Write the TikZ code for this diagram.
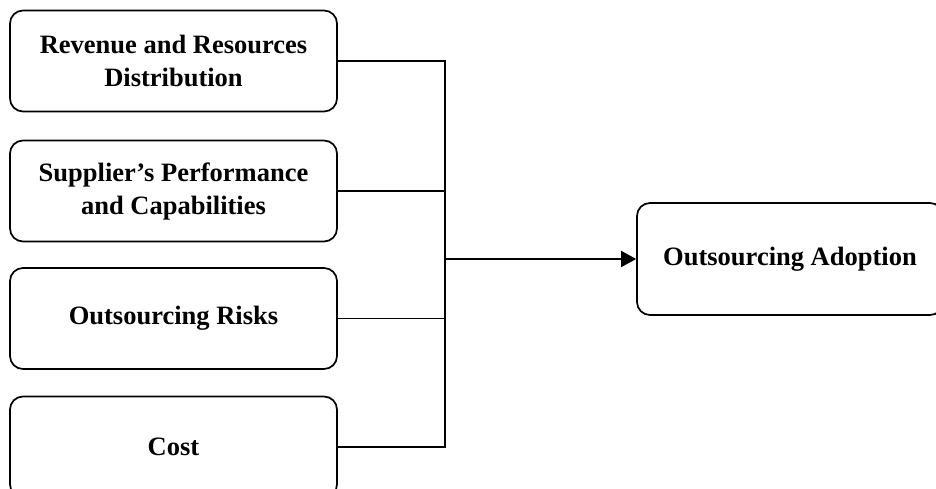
\documentclass[tikz,border=0pt]{standalone}
\usepackage{fontspec}
\setmainfont{Liberation Serif}
\usetikzlibrary{arrows.meta}
\begin{document}
\begin{tikzpicture}[x=1pt,y=-1pt,
  box/.style={draw, line width=1.7pt, rounded corners=13pt, minimum width=327pt,
    minimum height=101pt, align=center, inner sep=0pt,
    font=\fontsize{26.5}{33}\selectfont\bfseries},
  conn/.style={line width=1.7pt}]
\useasboundingbox (0,0) rectangle (936,489);
\clip (0,0) rectangle (936,489);
\node[box] (a) at (173.5,61) {Revenue and Resources\\Distribution};
\node[box] (b) at (173.5,191) {Supplier’s Performance\\and Capabilities};
\node[box] (c) at (173.5,318.5) {Outsourcing Risks};
\node[box] (d) at (173.5,447) {Cost};
\node[box, minimum width=306pt, minimum height=112pt] (e) at (790,259) {Outsourcing Adoption};
\coordinate (j) at (445,259);
\draw[conn] (a.east) -- (a.east -| j) -- (d.east -| j) -- (d.east);
\draw[conn] (b.east) -- (b.east -| j);
\draw[conn] (c.east) -- (c.east -| j);
\draw[conn, -{Triangle[length=15pt,width=16pt]}] (j) -- (e.west);
\end{tikzpicture}
\end{document}
